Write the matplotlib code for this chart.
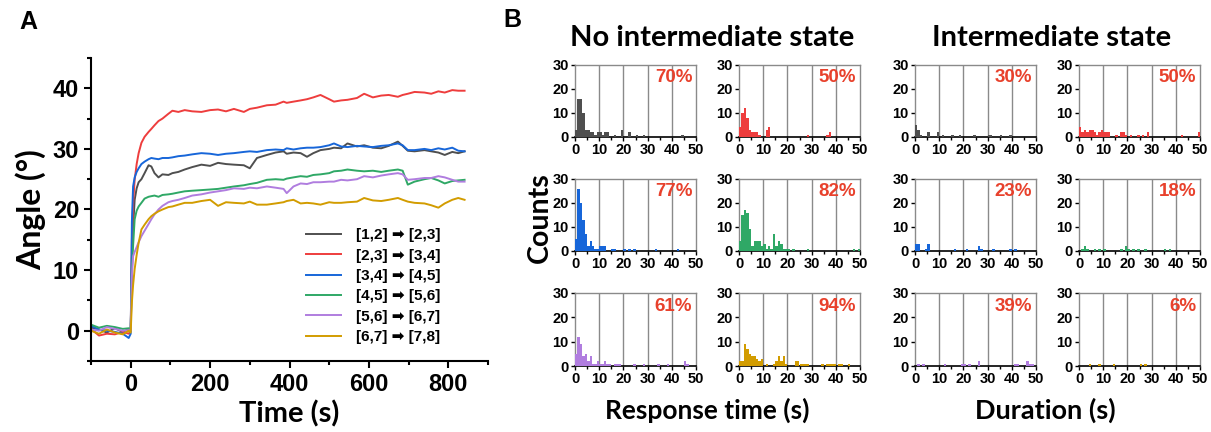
import matplotlib.pyplot as plt
from matplotlib.font_manager import FontProperties
from matplotlib.ticker import MultipleLocator

# ---------------- Panel A data ----------------
time_s = [-100, -80, -60, -40, -20, -5, 0, 3, 6, 10, 15, 20, 27, 35, 45, 52, 60, 70, 80, 95,
          105, 120, 136, 155, 178, 200, 220, 240, 260, 285, 300, 318, 343, 365, 385, 393, 410,
          428, 444, 460, 478, 500, 512, 530, 546, 570, 588, 610, 631, 650, 673, 685, 698, 715,
          740, 757, 775, 791, 810, 825, 841]

angle_12_23 = [0.5, 0.2, -0.3, 0.4, -0.2, 0.3, 0, 12, 17, 21.6, 23.5, 24.5, 25, 26, 27.3, 27.1, 26,
               25.3, 25.8, 25.7, 26, 26.2, 26.6, 27, 27.4, 27.2, 27.7, 27.5, 27.4, 27.3, 26.8, 28.5,
               29, 29.4, 29.6, 29.2, 29.4, 29.3, 28.7, 29.3, 29.8, 30, 30.2, 30.1, 30.9, 30.4, 30.6,
               30.2, 30.1, 30.5, 31.2, 30.5, 29.7, 29.6, 29.8, 29.6, 29.4, 29.0, 29.5, 29.3, 29.6]
angle_23_34 = [0.3, -0.8, -0.5, -0.6, -0.2, -0.5, 0, 15, 21, 24.9, 27.5, 29.3, 31, 32, 32.8, 33.3,
               33.9, 34.6, 35, 35.8, 36.3, 36.1, 36.4, 36.2, 36.1, 36.4, 36.5, 36.2, 36.6, 36.1,
               36.6, 36.8, 37.2, 37.3, 37.8, 37.6, 37.8, 38, 38.2, 38.5, 38.9, 38.2, 37.8, 38, 38.1,
               38.4, 39.1, 38.5, 38.8, 38.9, 38.6, 38.9, 39.1, 39.4, 39.3, 39.1, 39.5, 39.3, 39.7,
               39.6, 39.6]
angle_34_45 = [0.8, 0.2, 0.0, -0.2, -0.5, -1.2, -0.5, 18, 23.8, 25.3, 26.2, 26.8, 27.5, 27.9, 28.3,
               28.5, 28.4, 28.3, 28.5, 28.5, 28.6, 28.8, 28.9, 29.1, 29.3, 29.2, 29, 29.2, 29.3,
               29.5, 29.6, 29.5, 29.8, 29.9, 29.8, 30.1, 29.9, 30.1, 30.2, 30.2, 30.3, 30.6, 30.9,
               30.4, 30.3, 30.5, 30.4, 30.3, 30.5, 30.6, 30.9, 30.6, 29.8, 29.8, 30, 29.8, 30.1,
               29.9, 30.2, 29.7, 29.6]
angle_45_56 = [1.0, 0.5, 0.8, 0.6, 0.3, 0.4, 0.3, 10, 14, 18.4, 19.8, 20.5, 21.1, 21.8, 22.1, 22.2,
               22.3, 22.1, 22.4, 22.5, 22.6, 22.8, 23, 23.1, 23.2, 23.3, 23.4, 23.6, 23.8, 24, 24.2,
               24.4, 24.9, 25, 24.9, 25.1, 25.3, 25.5, 25.4, 25.7, 25.8, 26, 26.3, 26.4, 26.6, 26.4,
               26.3, 26.4, 26.2, 26.4, 26.6, 26.4, 24.1, 24.6, 25, 25.2, 24.8, 24.3, 24.7, 24.8, 24.9]
angle_56_67 = [0.2, 0.0, 0.6, 0.3, 0.0, 0.1, 0, 9, 12.3, 13, 13.8, 14.6, 15.6, 16.5, 17.6, 18.4,
               19.2, 20, 20.6, 21.2, 21.4, 21.6, 21.9, 22.3, 22.5, 22.8, 23, 23.2, 23.5, 23.4, 23.6,
               23.5, 23.8, 23.6, 23.4, 22.7, 23.8, 24.3, 24.2, 24.5, 24.5, 24.6, 24.6, 24.9, 24.8,
               25.0, 25.5, 25.3, 25.6, 25.8, 26, 25.8, 24.9, 25.0, 25.2, 25.2, 25.5, 25.3, 24.9,
               24.6, 24.6]
angle_67_78 = [0.0, -0.5, 0.2, -0.3, -0.6, 0.0, -0.3, 4.7, 7.5, 10.2, 12.5, 14.5, 16.7, 17.5, 18.4,
               18.9, 19.3, 19.7, 20, 20.4, 20.5, 20.8, 21.1, 21.1, 21.4, 21.6, 20.6, 21.2, 21.1, 21,
               21.3, 20.8, 20.8, 21, 21.2, 21.4, 21.6, 21, 21.1, 21, 20.8, 21.2, 21.1, 21.1, 21.2,
               21.3, 21.9, 21.5, 21.4, 21.6, 21.9, 21.6, 21.3, 21.1, 21, 20.7, 20.3, 21, 21.6, 21.9,
               21.6]

trace_labels = ["[1,2] \u27a1 [2,3]", "[2,3] \u27a1 [3,4]", "[3,4] \u27a1 [4,5]",
                "[4,5] \u27a1 [5,6]", "[5,6] \u27a1 [6,7]", "[6,7] \u27a1 [7,8]"]
colors = ["#4f4f4f", "#ee3d3d", "#1766d9", "#2fa866", "#b07ddf", "#d29c00"]

# ---------------- Panel B data: counts per 1 s bin {bin_start: count} ----------------
resp_12 = {0: 3, 1: 16, 2: 16, 3: 10, 4: 3, 5: 3, 6: 2, 7: 2, 8: 1, 9: 2, 10: 2, 11: 1, 12: 2,
           13: 2, 16: 1, 19: 3, 22: 2, 25: 1, 28: 1, 44: 1}
resp_23 = {0: 4, 1: 10, 2: 12, 3: 8, 4: 3, 5: 2, 6: 2, 7: 2, 8: 1, 11: 3, 12: 4, 28: 1, 36: 1, 37: 2}
resp_34 = {0: 5, 1: 26, 2: 20, 3: 13, 4: 7, 5: 2, 6: 4, 7: 2, 8: 1, 9: 1, 10: 2, 11: 2, 12: 2,
           15: 1, 16: 1, 20: 1, 22: 1, 24: 1, 33: 1, 42: 1}
resp_45 = {0: 4, 1: 15, 2: 17, 3: 16, 4: 9, 5: 2, 6: 4, 7: 4, 8: 4, 9: 2, 10: 3, 11: 1, 12: 2,
           13: 1, 14: 7, 15: 2, 16: 4, 17: 3, 18: 1, 19: 1, 20: 1, 22: 1, 28: 1, 47: 1, 49: 1}
resp_56 = {0: 5, 1: 12, 2: 9, 3: 4, 4: 5, 5: 2, 6: 4, 7: 1, 8: 1, 9: 2, 10: 1, 11: 1, 12: 2,
           13: 1, 14: 1, 16: 1, 17: 1, 18: 1, 24: 1, 28: 1, 34: 1, 38: 1, 45: 2, 46: 1}
resp_67 = {0: 2, 1: 2, 2: 9, 3: 7, 4: 5, 5: 4, 6: 4, 7: 3, 8: 2, 9: 3, 11: 1, 14: 1, 15: 2,
           16: 4, 17: 2, 18: 4, 19: 1, 23: 2, 24: 2, 25: 1, 26: 1, 27: 1, 28: 1, 34: 1, 36: 1,
           37: 1, 38: 1, 39: 1, 41: 1, 42: 1, 45: 1}

dur_12 = {0: 5, 1: 3, 2: 1, 5: 2, 9: 2, 11: 1, 15: 1, 18: 1, 24: 1, 30: 1, 31: 1, 35: 1, 39: 1}
dur_23 = {0: 4, 1: 2, 2: 3, 3: 2, 4: 3, 5: 3, 6: 2, 7: 1, 8: 2, 9: 3, 10: 2, 11: 2, 12: 2,
          15: 1, 17: 2, 18: 2, 19: 1, 21: 1, 24: 1, 26: 1, 28: 2, 42: 1, 49: 2}
dur_34 = {0: 3, 1: 3, 4: 1, 5: 3, 16: 1, 21: 1, 26: 2, 27: 1, 32: 1, 39: 1, 41: 1}
dur_45 = {1: 1, 2: 2, 3: 1, 6: 1, 8: 1, 10: 1, 17: 1, 19: 2, 20: 1, 22: 1, 24: 1, 27: 1,
          35: 1, 37: 1}
dur_56 = {1: 1, 3: 1, 12: 1, 19: 1, 20: 1, 22: 1, 26: 2, 41: 1, 42: 1, 46: 2, 47: 1, 48: 1}
dur_67 = {4: 1, 8: 1, 14: 1, 25: 1, 27: 1}

resp_pct = ["70%", "50%", "77%", "82%", "61%", "94%"]
dur_pct = ["30%", "50%", "23%", "18%", "39%", "6%"]

BOLD = "Liberation Sans"
TITLE = "Lato"

fig = plt.figure(figsize=(12.11, 4.32), dpi=100)
W, H = 1211, 432


def px_axes(l, t, r, b):
    return fig.add_axes([l / W, 1 - b / H, (r - l) / W, (b - t) / H])


# ---------------- Panel A ----------------
axA = px_axes(91, 58, 488, 361)
series = [angle_12_23, angle_23_34, angle_34_45, angle_45_56, angle_56_67, angle_67_78]
for vals, c, lab in zip(series, colors, trace_labels):
    axA.plot(time_s, vals, color=c, lw=1.4, label=lab)

axA.set_xlim(-100, 900)
axA.set_ylim(-5, 45)
axA.xaxis.set_major_locator(MultipleLocator(200))
axA.xaxis.set_minor_locator(MultipleLocator(100))
axA.yaxis.set_major_locator(MultipleLocator(10))
axA.yaxis.set_minor_locator(MultipleLocator(5))
axA.set_xticks([0, 200, 400, 600, 800])
for s in ["top", "right"]:
    axA.spines[s].set_visible(False)
for s in ["left", "bottom"]:
    axA.spines[s].set_linewidth(1.5)
axA.tick_params(which="major", direction="out", length=5, width=1.5)
axA.tick_params(which="minor", direction="out", length=3, width=1.5)
for lbl in axA.get_xticklabels() + axA.get_yticklabels():
    lbl.set_fontfamily(BOLD)
    lbl.set_fontweight("bold")
    lbl.set_fontsize(17)
axA.set_xlabel("Time (s)", fontfamily=TITLE, fontweight="bold", fontsize=21, labelpad=3)
axA.set_ylabel("Angle (\u00b0)", fontfamily=TITLE, fontweight="bold", fontsize=23, labelpad=5)

leg_font = FontProperties(family=[BOLD, "DejaVu Sans"], weight="bold", size=11)
axA.legend(loc="lower right", bbox_to_anchor=(0.915, 0.01), frameon=False, prop=leg_font,
           handlelength=2.3, handletextpad=1.0, labelspacing=0.42)

fig.text(28 / W, 1 - 22 / H, "A", fontfamily=BOLD, fontweight="bold", fontsize=18,
         ha="center", va="center")
fig.text(512 / W, 1 - 20 / H, "B", fontfamily=BOLD, fontweight="bold", fontsize=18,
         ha="center", va="center")

# ---------------- Panel B ----------------
col_lr = [(575, 696), (739, 860), (915, 1036), (1079, 1200)]
row_tb = [(65, 137), (179, 251), (293, 366)]
resp_sets = [resp_12, resp_23, resp_34, resp_45, resp_56, resp_67]
dur_sets = [dur_12, dur_23, dur_34, dur_45, dur_56, dur_67]

for k in range(6):
    r = k // 2
    for block, sets, pcts in [(0, resp_sets, resp_pct), (2, dur_sets, dur_pct)]:
        l, rr = col_lr[block + k % 2]
        t, b = row_tb[r]
        ax = px_axes(l, t, rr, b)
        counts = sets[k]
        bins = list(counts.keys())
        ax.bar([x + 0.5 for x in bins], list(counts.values()), width=1.0,
               color=colors[k], edgecolor="none", zorder=3)
        ax.set_xlim(0, 50)
        ax.set_ylim(0, 30)
        for g in [10, 20, 30, 40]:
            ax.axvline(g, color="#8a8a8a", lw=1.0, zorder=1)
        ax.set_xticks(range(0, 51, 10))
        ax.xaxis.set_minor_locator(MultipleLocator(5))
        ax.set_yticks([0, 10, 20, 30])
        for s in ["top", "right", "left"]:
            ax.spines[s].set_color("#8a8a8a")
            ax.spines[s].set_linewidth(1.0)
        ax.spines["bottom"].set_linewidth(1.2)
        ax.tick_params(which="major", direction="out", length=3, width=1.0, pad=1.5)
        ax.tick_params(which="minor", direction="out", length=2, width=1.0)
        for lbl in ax.get_xticklabels() + ax.get_yticklabels():
            lbl.set_fontfamily(BOLD)
            lbl.set_fontweight("bold")
            lbl.set_fontsize(10.5)
        ax.text(0.97, 0.82, pcts[k], transform=ax.transAxes, ha="right", va="center",
                color="#e8412c", fontfamily=BOLD, fontweight="bold", fontsize=13.5, zorder=5)

fig.text(712 / W, 1 - 38 / H, "No intermediate state", fontfamily=TITLE, fontweight="bold",
         fontsize=21, ha="center", va="center")
fig.text(1052 / W, 1 - 38 / H, "Intermediate state", fontfamily=TITLE, fontweight="bold",
         fontsize=21, ha="center", va="center")
fig.text(540 / W, 1 - 218 / H, "Counts", fontfamily=TITLE, fontweight="bold", fontsize=20.5,
         ha="center", va="center", rotation=90)
fig.text(707 / W, 1 - 410 / H, "Response time (s)", fontfamily=TITLE, fontweight="bold",
         fontsize=19, ha="center", va="center")
fig.text(1045 / W, 1 - 410 / H, "Duration (s)", fontfamily=TITLE, fontweight="bold",
         fontsize=19.5, ha="center", va="center")

fig.savefig("out.png", dpi=100)
